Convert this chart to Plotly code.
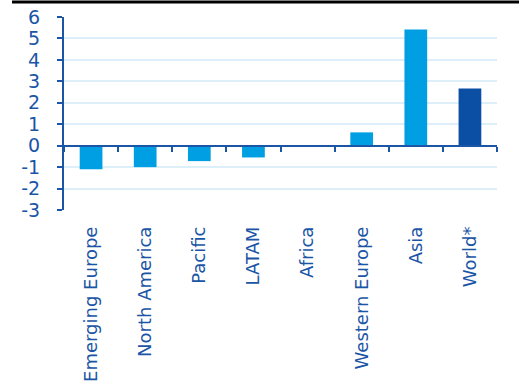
import plotly.graph_objects as go

categories = ["Emerging Europe", "North America", "Pacific", "LATAM", "Africa",
              "Western Europe", "Asia", "World*"]
values = [-1.1, -1.0, -0.72, -0.55, -0.05, 0.62, 5.42, 2.66]
bar_colors = ["#009FE3"] * 7 + ["#0A4FA3"]
y_ticks = [-3, -2, -1, 0, 1, 2, 3, 4, 5, 6]

text_color = "#1A55A6"
axis_color = "#1A55A6"
grid_color = "#DDF0FA"
font_family = "DejaVu Sans"

fig = go.Figure()
fig.add_trace(go.Bar(x=categories, y=values, marker=dict(color=bar_colors, line=dict(width=0)),
                     width=0.42, showlegend=False, hoverinfo="x+y"))
# invisible trace to carry the zero-line axis
fig.add_trace(go.Scatter(x=categories, y=[None] * len(categories), xaxis="x2", yaxis="y",
                         mode="markers", showlegend=False, hoverinfo="skip"))

fig.update_layout(
    width=519, height=385,
    margin=dict(l=64, r=22, t=17, b=175),
    plot_bgcolor="white", paper_bgcolor="white",
    font=dict(family=font_family, color=text_color, size=16),
    xaxis=dict(
        type="category", categoryorder="array", categoryarray=categories,
        tickangle=-90, showline=False, ticks="", showgrid=False, zeroline=False,
        tickfont=dict(size=18, color=text_color, family=font_family),
        ticklabelstandoff=12, automargin=False,
        range=[-0.5, 7.5],
    ),
    xaxis2=dict(
        type="category", categoryorder="array", categoryarray=categories,
        overlaying="x", anchor="free", position=1 / 3, side="bottom",
        showline=True, linecolor=axis_color, linewidth=2,
        ticks="outside", tickson="boundaries", ticklen=5, tickwidth=2, tickcolor=axis_color,
        showticklabels=False, showgrid=False, zeroline=False, automargin=False,
        range=[-0.5, 7.5],
    ),
    yaxis=dict(
        range=[-3, 6], tickvals=y_ticks, ticktext=[str(v) for v in y_ticks],
        showline=True, linecolor=axis_color, linewidth=2,
        ticks="outside", ticklen=5, tickwidth=2, tickcolor=axis_color,
        showgrid=True, gridcolor=grid_color, gridwidth=2,
        zeroline=False, automargin=False,
        ticklabelstandoff=13,
        tickfont=dict(size=19, color=text_color, family=font_family),
    ),
    shapes=[dict(type="line", xref="paper", yref="paper", x0=-52 / 433, x1=1 + 22 / 433,
                 y0=1 + 15 / 193, y1=1 + 15 / 193, line=dict(color="black", width=3))],
)

fig.write_html("out.html")
